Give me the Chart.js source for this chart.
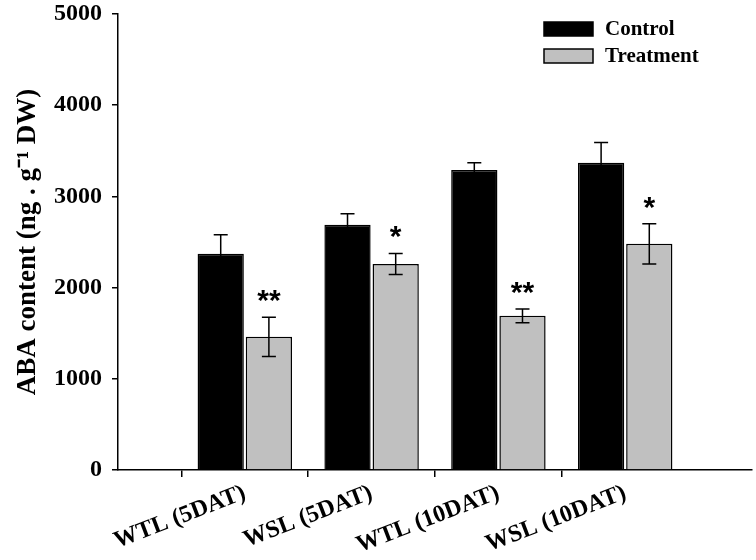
<!DOCTYPE html>
<html>
<head>
<meta charset="utf-8">
<script src="https://cdn.jsdelivr.net/npm/chart.js@4.4.1/dist/chart.umd.min.js"></script>
<style>
    html, body { margin: 0; padding: 0; background: #fff; }
    #wrap { width: 756px; height: 560px; }
</style>
</head>
<body>
<div id="wrap"><canvas id="abaChart"></canvas></div>
<script>
// Chart data
const categories = ['WTL (5DAT)', 'WSL (5DAT)', 'WTL (10DAT)', 'WSL (10DAT)'];
const controlValues = [2370, 2690, 3290, 3370];
const controlErrors = [210, 120, 80, 220];
const treatmentValues = [1460, 2260, 1690, 2480];
const treatmentErrors = [215, 115, 75, 220];
const significance = ['**', '*', '**', '*'];
const yTicks = [0, 1000, 2000, 3000, 4000, 5000];

// Empty slot at each end, so the axis runs 0..5 like the original
const labels = ['', ...categories, ''];
const pad = arr => [null, ...arr, null];

const SERIF = '"Liberation Serif", "Times New Roman", serif';

// Error bars + significance stars
const errorBars = {
    id: 'errorBars',
    afterDatasetsDraw(chart) {
        const ctx = chart.ctx;
        const y = chart.scales.y;
        ctx.save();
        ctx.strokeStyle = '#000';
        ctx.lineWidth = 1.5;
        chart.data.datasets.forEach((ds, i) => {
            const meta = chart.getDatasetMeta(i);
            meta.data.forEach((bar, j) => {
                const v = ds.data[j];
                const e = ds.errors[j];
                if (v == null || e == null) return;
                const top = y.getPixelForValue(v + e);
                const bottom = y.getPixelForValue(v - e);
                ctx.beginPath();
                ctx.moveTo(bar.x, top);
                ctx.lineTo(bar.x, bottom);
                ctx.moveTo(bar.x - 7, top);
                ctx.lineTo(bar.x + 7, top);
                ctx.moveTo(bar.x - 7, bottom);
                ctx.lineTo(bar.x + 7, bottom);
                ctx.stroke();
                const mark = ds.marks ? ds.marks[j] : null;
                if (mark) {
                    ctx.fillStyle = '#000';
                    ctx.font = 'bold 30px "Liberation Sans", Arial, sans-serif';
                    ctx.textAlign = 'center';
                    ctx.textBaseline = 'alphabetic';
                    ctx.fillText(mark, bar.x, top - 24 + 17);
                }
            });
        });
        ctx.restore();
    }
};

// Stacked legend in the top right corner
const boxLegend = {
    id: 'boxLegend',
    afterDraw(chart, args, opts) {
        const ctx = chart.ctx;
        ctx.save();
        ctx.font = 'bold 21px ' + SERIF;
        ctx.textBaseline = 'middle';
        ctx.textAlign = 'left';
        chart.data.datasets.forEach((ds, i) => {
            const top = opts.top + i * opts.rowGap;
            ctx.fillStyle = ds.backgroundColor;
            ctx.fillRect(opts.left, top, opts.boxWidth, opts.boxHeight);
            ctx.lineWidth = 1.5;
            ctx.strokeStyle = '#000';
            ctx.strokeRect(opts.left, top, opts.boxWidth, opts.boxHeight);
            ctx.fillStyle = '#000';
            ctx.fillText(ds.label, opts.left + opts.boxWidth + 12, top + opts.boxHeight / 2 + 1);
        });
        ctx.restore();
    }
};

new Chart(document.getElementById('abaChart'), {
    type: 'bar',
    data: {
        labels: labels,
        datasets: [{
            label: 'Control',
            data: pad(controlValues),
            errors: pad(controlErrors),
            backgroundColor: '#000000',
            borderColor: '#000000',
            borderWidth: 1.5
        }, {
            label: 'Treatment',
            data: pad(treatmentValues),
            errors: pad(treatmentErrors),
            marks: pad(significance),
            backgroundColor: '#c0c0c0',
            borderColor: '#000000',
            borderWidth: 1.5
        }]
    },
    plugins: [errorBars, boxLegend],
    options: {
        responsive: true,
        maintainAspectRatio: false,
        animation: false,
        categoryPercentage: 0.76,
        barPercentage: 0.96,
        layout: { padding: { top: 14, right: 4, left: 0, bottom: 0 } },
        plugins: {
            legend: { display: false },
            tooltip: { enabled: false },
            boxLegend: { left: 544, top: 22, rowGap: 27, boxWidth: 49, boxHeight: 14 }
        },
        scales: {
            x: {
                offset: false,
                grid: {
                    drawOnChartArea: false,
                    tickLength: 7,
                    lineWidth: 1.5,
                    tickColor: ctx => labels[ctx.index] ? '#000' : 'rgba(0,0,0,0)'
                },
                border: { display: true, color: '#000', width: 1.5 },
                ticks: {
                    autoSkip: false,
                    minRotation: 21,
                    maxRotation: 21,
                    padding: 2,
                    color: '#000',
                    font: { family: SERIF, size: 24, weight: 'bold' }
                },
                afterFit: scale => {
                    scale.height = 90;
                    scale.paddingLeft = 0;
                    scale.paddingRight = 0;
                }
            },
            y: {
                min: 0,
                max: 5000,
                afterBuildTicks: scale => { scale.ticks = yTicks.map(v => ({ value: v })); },
                grid: {
                    drawOnChartArea: false,
                    tickLength: 6,
                    lineWidth: 1.5,
                    tickColor: '#000'
                },
                border: { display: true, color: '#000', width: 1.5 },
                ticks: {
                    padding: 10,
                    color: '#000',
                    callback: v => String(v),
                    font: { family: SERIF, size: 24, weight: 'bold' }
                },
                title: {
                    display: true,
                    text: 'ABA content (ng . g\u207B\u00B9 DW)',
                    color: '#000',
                    padding: { top: 12, bottom: 0 },
                    font: { family: SERIF, size: 27, weight: 'bold' }
                },
                afterFit: scale => {
                    scale.width = 118;
                    scale.paddingTop = 0;
                    scale.paddingBottom = 0;
                }
            }
        }
    }
});
</script>
</body>
</html>
